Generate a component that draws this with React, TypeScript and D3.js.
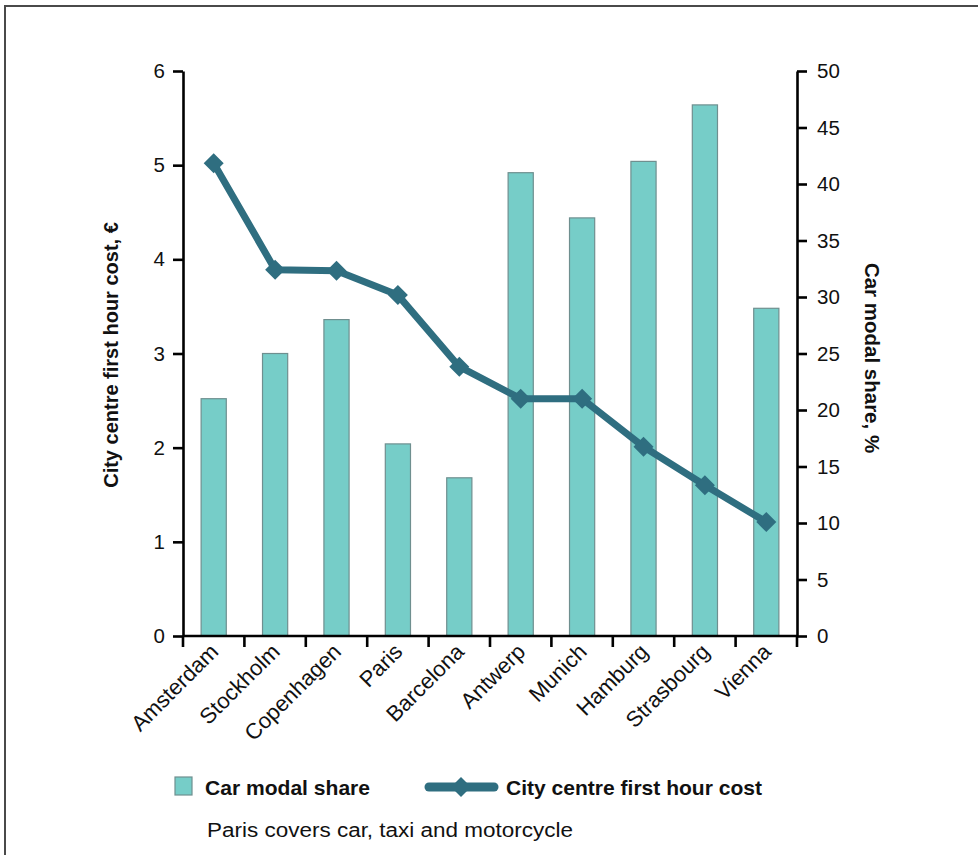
import { useEffect, useRef } from 'react';
import * as d3 from 'd3';

const cities = [
  'Amsterdam', 'Stockholm', 'Copenhagen', 'Paris', 'Barcelona',
  'Antwerp', 'Munich', 'Hamburg', 'Strasbourg', 'Vienna'
];
// Car modal share, % (right axis)
const carModalShare = [21, 25, 28, 17, 14, 41, 37, 42, 47, 29];
// City centre first hour cost, € (left axis)
const firstHourCost = [5.02, 3.89, 3.88, 3.62, 2.86, 2.52, 2.52, 2.01, 1.6, 1.21];
const leftTicks = [0, 1, 2, 3, 4, 5, 6];
const rightTicks = [0, 5, 10, 15, 20, 25, 30, 35, 40, 45, 50];

const WIDTH = 978;
const HEIGHT = 855;
const BAR_FILL = '#76cdc8';
const BAR_STROKE = '#6f8f8f';
const LINE_COLOR = '#2f6e80';
const FONT = '"Liberation Sans", Arial, sans-serif';
const NARROW = '"Liberation Sans Narrow", "Liberation Sans", Arial, sans-serif';

export default function App() {
  const svgRef = useRef<SVGSVGElement>(null);

  useEffect(() => {
    if (!svgRef.current) return;
    const svg = d3.select(svgRef.current);
    svg.selectAll('*').remove();

    const left = 183;
    const right = 797;
    const top = 71;
    const bottom = 636;

    const x = d3.scaleBand<string>().domain(cities).range([left, right]).paddingInner(0.59).paddingOuter(0.295);
    const band = d3.scaleBand<string>().domain(cities).range([left, right]);
    const yLeft = d3.scaleLinear().domain([0, 6]).range([bottom, top]);
    const yRight = d3.scaleLinear().domain([0, 50]).range([bottom, top]);

    // frame
    svg.append('rect')
      .attr('x', 5).attr('y', 6)
      .attr('width', WIDTH + 20).attr('height', HEIGHT + 20)
      .attr('fill', 'none').attr('stroke', '#4a4a4a').attr('stroke-width', 2);

    // bars
    svg.append('g').selectAll('rect')
      .data(cities)
      .join('rect')
      .attr('x', d => x(d)!)
      .attr('y', (_, i) => yRight(carModalShare[i]))
      .attr('width', x.bandwidth())
      .attr('height', (_, i) => bottom - yRight(carModalShare[i]))
      .attr('fill', BAR_FILL)
      .attr('stroke', BAR_STROKE)
      .attr('stroke-width', 1.2);

    // left axis
    const gl = svg.append('g')
      .attr('transform', `translate(${left},0)`)
      .call(d3.axisLeft(yLeft).tickValues(leftTicks).tickFormat(d3.format('d')).tickSize(10).tickSizeOuter(0).tickPadding(8));
    // right axis
    const gr = svg.append('g')
      .attr('transform', `translate(${right},0)`)
      .call(d3.axisRight(yRight).tickValues(rightTicks).tickFormat(d3.format('d')).tickSize(10).tickSizeOuter(0).tickPadding(10));

    [gl, gr].forEach(g => {
      g.select('.domain').attr('stroke', '#000').attr('stroke-width', 2.6);
      g.selectAll('.tick line').attr('stroke', '#000').attr('stroke-width', 2.6);
      g.selectAll('.tick text')
        .attr('fill', '#111')
        .attr('font-family', FONT)
        .attr('font-size', 20.5);
    });

    // bottom axis line and band ticks
    svg.append('line')
      .attr('x1', left).attr('x2', right)
      .attr('y1', bottom).attr('y2', bottom)
      .attr('stroke', '#000').attr('stroke-width', 2.6);
    const edges = [...cities.map(c => band(c)!), right];
    svg.append('g').selectAll('line')
      .data(edges)
      .join('line')
      .attr('x1', d => d).attr('x2', d => d)
      .attr('y1', bottom).attr('y2', bottom + 11)
      .attr('stroke', '#000').attr('stroke-width', 2.6);

    // category labels
    svg.append('g').selectAll('text')
      .data(cities)
      .join('text')
      .attr('transform', d => `translate(${band(d)! + band.bandwidth() / 2 + 6},653) rotate(-45)`)
      .attr('text-anchor', 'end')
      .attr('font-family', FONT)
      .attr('font-size', 22)
      .attr('fill', '#111')
      .text(d => d);

    // line
    const line = d3.line<number>()
      .x((_, i) => band(cities[i])! + band.bandwidth() / 2)
      .y(d => yLeft(d));
    svg.append('path')
      .datum(firstHourCost)
      .attr('d', line)
      .attr('fill', 'none')
      .attr('stroke', LINE_COLOR)
      .attr('stroke-width', 7)
      .attr('stroke-linejoin', 'round');

    const diamond = d3.symbol().type(d3.symbolSquare).size(200);
    svg.append('g').selectAll('path')
      .data(firstHourCost)
      .join('path')
      .attr('d', diamond)
      .attr('transform', (d, i) => `translate(${band(cities[i])! + band.bandwidth() / 2},${yLeft(d)}) rotate(45)`)
      .attr('fill', LINE_COLOR);

    // axis titles
    svg.append('text')
      .attr('transform', `translate(118,355) rotate(-90)`)
      .attr('text-anchor', 'middle')
      .attr('font-family', FONT)
      .attr('font-weight', 'bold')
      .attr('font-size', 20)
      .attr('fill', '#111')
      .text('City centre first hour cost, €');
    svg.append('text')
      .attr('transform', `translate(865,358) rotate(90)`)
      .attr('text-anchor', 'middle')
      .attr('font-family', FONT)
      .attr('font-weight', 'bold')
      .attr('font-size', 20.5)
      .attr('fill', '#111')
      .text('Car modal share, %');

    // legend
    const legend = svg.append('g');
    legend.append('rect')
      .attr('x', 175).attr('y', 777).attr('width', 17).attr('height', 18)
      .attr('fill', BAR_FILL).attr('stroke', BAR_STROKE).attr('stroke-width', 1.2);
    legend.append('text')
      .attr('x', 205).attr('y', 795)
      .attr('font-family', NARROW).attr('font-weight', 'bold').attr('font-size', 21)
      .attr('textLength', 165).attr('lengthAdjust', 'spacingAndGlyphs')
      .attr('fill', '#111')
      .text('Car modal share');
    legend.append('line')
      .attr('x1', 429).attr('x2', 494).attr('y1', 787).attr('y2', 787)
      .attr('stroke', LINE_COLOR).attr('stroke-width', 9).attr('stroke-linecap', 'round');
    legend.append('path')
      .attr('d', d3.symbol().type(d3.symbolSquare).size(200)())
      .attr('transform', 'translate(461,787) rotate(45)')
      .attr('fill', LINE_COLOR);
    legend.append('text')
      .attr('x', 506).attr('y', 795)
      .attr('font-family', NARROW).attr('font-weight', 'bold').attr('font-size', 21)
      .attr('textLength', 256).attr('lengthAdjust', 'spacingAndGlyphs')
      .attr('fill', '#111')
      .text('City centre first hour cost');
    legend.append('text')
      .attr('x', 207).attr('y', 837)
      .attr('font-family', NARROW).attr('font-size', 20)
      .attr('textLength', 366).attr('lengthAdjust', 'spacingAndGlyphs')
      .attr('fill', '#111')
      .text('Paris covers car, taxi and motorcycle');
  }, []);

  return (
    <svg
      ref={svgRef}
      width={WIDTH}
      height={HEIGHT}
      style={{ position: 'absolute', left: 0, top: 0, background: '#fff' }}
    />
  );
}
